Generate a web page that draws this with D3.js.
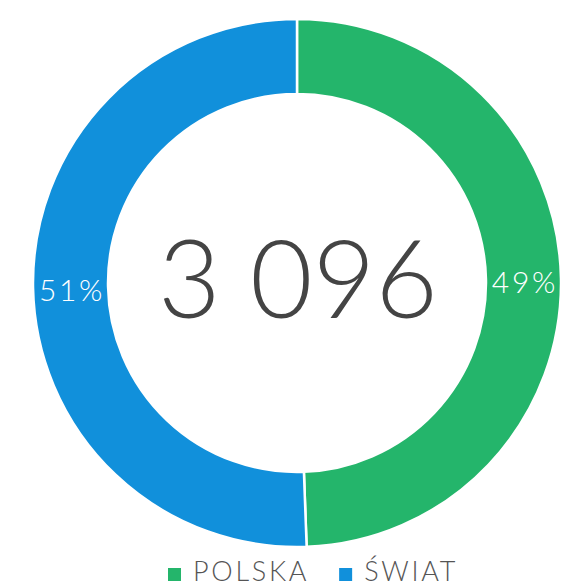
<!DOCTYPE html>
<html>
<head>
<meta charset="utf-8">
<script src="https://cdn.jsdelivr.net/npm/d3@7"></script>
<style>
  html, body { margin: 0; padding: 0; background: #fff; }
  #chart { width: 576px; height: 583px; }
  text { font-family: Lato, "Open Sans", sans-serif; font-weight: 300; }
</style>
</head>
<body>
<div id="chart"></div>
<script>
// data
const categories = ['POLSKA', 'ŚWIAT'];
const values = [1530, 1566];
const percentLabels = ['49%', '51%'];
const totalLabel = '3 096';
const colors = ['#24b56b', '#1190db'];

const width = 576;
const height = 583;
const cx = 297, cy = 283;
const outerR = 264, innerR = 189;

const svg = d3.select('#chart')
  .append('svg')
  .attr('width', width)
  .attr('height', height);

const color = d3.scaleOrdinal().domain(categories).range(colors);

const pie = d3.pie().sort(null).value(d => d.value);
const arc = d3.arc().innerRadius(innerR).outerRadius(outerR);

const slices = pie(categories.map((c, i) => ({ name: c, value: values[i], label: percentLabels[i] })));

const g = svg.append('g').attr('transform', `translate(${cx},${cy})`);

g.selectAll('path.slice')
  .data(slices)
  .enter()
  .append('path')
  .attr('class', 'slice')
  .attr('d', arc)
  .attr('fill', d => color(d.data.name))
  .attr('stroke', '#fff')
  .attr('stroke-width', 2.5);

// percent labels at the middle of each ring segment
g.selectAll('text.pct')
  .data(slices)
  .enter()
  .append('text')
  .attr('class', 'pct')
  .attr('x', d => arc.centroid(d)[0] + 1.5)
  .attr('y', d => arc.centroid(d)[1])
  .attr('dy', '0.47em')
  .attr('text-anchor', 'middle')
  .attr('fill', '#fff')
  .style('font-size', '30px')
  .style('letter-spacing', '2.7px')
  .text(d => d.data.label);

// big total in the middle
g.append('text')
  .attr('x', 1)
  .attr('y', -4)
  .attr('dy', '0.36em')
  .attr('text-anchor', 'middle')
  .attr('fill', '#444')
  .style('font-size', '108px')
  .text(totalLabel);

// legend at the bottom
const legend = svg.append('g').attr('class', 'legend');
const items = legend.selectAll('g.item')
  .data(categories)
  .enter()
  .append('g')
  .attr('class', 'item');

items.append('rect')
  .attr('width', 13)
  .attr('height', 13)
  .attr('y', -13)
  .attr('fill', d => color(d));

items.append('text')
  .attr('x', 25)
  .attr('fill', '#555')
  .style('font-size', '27px')
  .style('letter-spacing', '2.7px')
  .text(d => d);

let x = 0;
const gap = 30;
items.each(function () {
  const item = d3.select(this);
  item.attr('transform', `translate(${x},0)`);
  x += 25 + item.select('text').node().getComputedTextLength() + gap;
});
const legendW = x - gap;
legend.attr('transform', `translate(${168},581)`);
</script>
</body>
</html>
